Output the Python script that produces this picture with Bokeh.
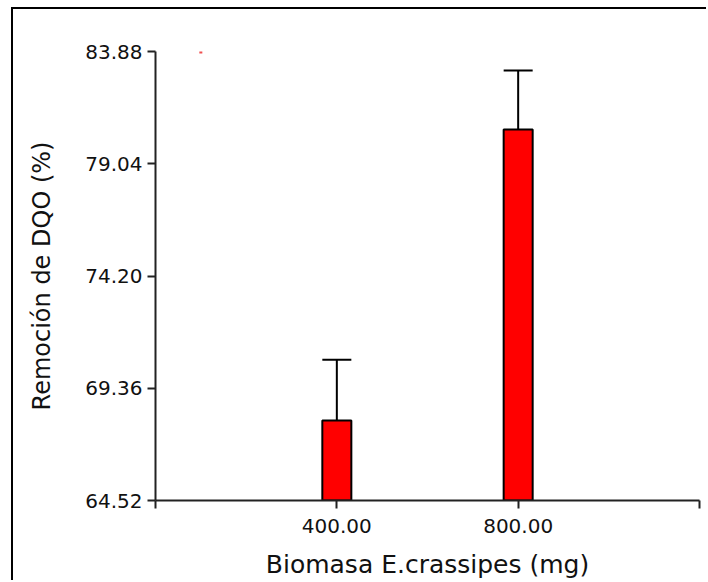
from bokeh.plotting import figure
from bokeh.embed import file_html
from bokeh.resources import INLINE
from bokeh.models import FixedTicker, Range1d

# ---- data ----
biomasa = [400, 800]                 # mg
remocion = [67.97, 80.52]            # mean %
remocion_err_top = [70.59, 83.06]    # upper error bar
y_ticks = [64.52, 69.36, 74.20, 79.04, 83.88]
x_ticks = [0, 400, 800, 1200]
x_tick_labels = {0: "", 400: "400.00", 800: "800.00", 1200: ""}
stray_x = [100]
stray_y = [83.86]

BAR_W = 64
FONT = "DejaVu Sans"

p = figure(width=695, height=573, output_backend="svg", toolbar_location=None,
           x_range=Range1d(0, 1200), y_range=Range1d(64.52, 83.88),
           min_border_left=142, min_border_right=9, min_border_top=42, min_border_bottom=82)
p.styles = {"margin-left": "11px", "margin-top": "7px",
            "border-left": "2px solid black", "border-top": "2px solid black"}

p.xgrid.visible = False
p.ygrid.visible = False
p.outline_line_color = None
p.background_fill_color = "white"
p.border_fill_color = "white"

# bars
p.vbar(x=biomasa, top=remocion, bottom=64.52, width=BAR_W,
       fill_color="#ff0000", line_color="black", line_width=2)
# error bars (upper only)
p.segment(x0=biomasa, y0=remocion, x1=biomasa, y1=remocion_err_top,
          line_color="black", line_width=2)
p.segment(x0=[b - BAR_W / 2 for b in biomasa], y0=remocion_err_top,
          x1=[b + BAR_W / 2 for b in biomasa], y1=remocion_err_top,
          line_color="black", line_width=2)
# stray mark
p.scatter(x=stray_x, y=stray_y, marker="square", size=3, color="#f05050", line_color=None)

for ax in (p.xaxis[0], p.yaxis[0]):
    ax.axis_line_color = "#222222"
    ax.axis_line_width = 2
    ax.major_tick_line_color = "#222222"
    ax.major_tick_line_width = 2
    ax.major_tick_out = 8
    ax.major_tick_in = 0
    ax.minor_tick_line_color = None
    ax.major_label_text_font = FONT
    ax.major_label_text_font_size = "20px"
    ax.major_label_text_color = "#111111"
    ax.axis_label_text_font = FONT
    ax.axis_label_text_font_style = "normal"
    ax.axis_label_text_color = "#111111"

p.xaxis.ticker = FixedTicker(ticks=x_ticks)
p.xaxis.major_label_overrides = x_tick_labels
p.xaxis.axis_label = "Biomasa E.crassipes (mg)"
p.xaxis.axis_label_text_font_size = "25px"
p.xaxis.major_label_standoff = 10
p.xaxis.axis_label_standoff = 14

p.yaxis.ticker = FixedTicker(ticks=y_ticks)
p.yaxis.major_label_overrides = {t: f"{t:.2f}" for t in y_ticks}
p.yaxis.axis_label = "Remoción de DQO (%)"
p.yaxis.axis_label_text_font_size = "24px"
p.yaxis.major_label_standoff = 5
p.yaxis.axis_label_standoff = 26

open("out.html", "w").write(file_html(p, INLINE))
